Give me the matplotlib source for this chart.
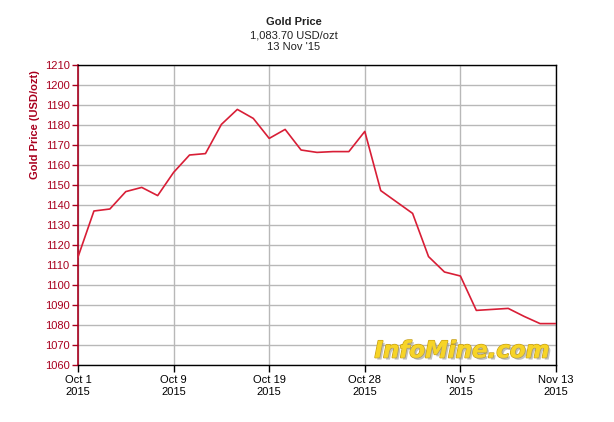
import matplotlib
matplotlib.use("Agg")
import matplotlib.pyplot as plt
import matplotlib.patheffects as pe

plt.rcParams['font.family'] = ['Liberation Sans', 'DejaVu Sans']

# gold price, one value per trading day, Oct 1 - Nov 13 2015
prices = [1114, 1137, 1138, 1146.7, 1148.8, 1144.7, 1156.3, 1165, 1165.7, 1180.3,
          1187.8, 1183.3, 1173.3, 1177.8, 1167.5, 1166.3, 1166.7, 1166.7, 1176.8, 1147.2,
          1141.5, 1135.8, 1114.2, 1106.5, 1104.5, 1087.3, 1087.8, 1088.3, 1084.3, 1080.7,
          1080.7]
tick_pos = [0, 6, 12, 18, 24, 30]
tick_labels = ["Oct 1\n2015", "Oct 9\n2015", "Oct 19\n2015", "Oct 28\n2015",
               "Nov 5\n2015", "Nov 13\n2015"]
y_ticks = list(range(1060, 1211, 10))

dark_red = "#a8001e"

fig = plt.figure(figsize=(6.14, 4.22), dpi=100)
ax = fig.add_axes([78 / 614, 57 / 422, 478 / 614, 300 / 422])

ax.plot(range(len(prices)), prices, color="#d81e36", lw=1.2, zorder=3)

ax.set_xlim(0, len(prices) - 1)
ax.set_ylim(1060, 1210)
ax.set_xticks(tick_pos)
ax.set_xticklabels(tick_labels, fontsize=8, color="black", linespacing=1.3)
ax.set_yticks(y_ticks)
ax.set_yticklabels([str(v) for v in y_ticks], fontsize=8, color=dark_red)
ax.grid(True, color="#b8b8b8", lw=1)
ax.set_axisbelow(True)

ax.tick_params(axis="y", direction="out", length=4, width=1, color=dark_red, pad=2)
ax.tick_params(axis="x", direction="out", length=5, width=1, color="black", pad=2)
for s in ["top", "right", "bottom"]:
    ax.spines[s].set_color("black")
    ax.spines[s].set_linewidth(1)
ax.spines["left"].set_color(dark_red)
ax.spines["left"].set_linewidth(1.2)

fig.text(294 / 614, 1 - 22 / 422, "Gold Price", ha="center", va="center",
         fontsize=8, fontweight="bold", color="#222222")
fig.text(294 / 614, 1 - 35 / 422, "1,083.70 USD/ozt", ha="center", va="center",
         fontsize=8, color="#222222")
fig.text(294 / 614, 1 - 47 / 422, "13 Nov '15", ha="center", va="center",
         fontsize=8, color="#222222")
fig.text(35 / 614, 1 - 125 / 422, "Gold Price (USD/ozt)", ha="center", va="center",
         rotation=90, fontsize=8, fontweight="bold", color=dark_red)

# watermark
fig.text(462 / 614, 1 - 351 / 422, "InfoMine.com", ha="center", va="center",
         fontsize=16.5, fontweight="bold", fontstyle="italic", color="#f7d427",
         family="DejaVu Sans",
         path_effects=[pe.withStroke(linewidth=1.2, foreground="#c9a010"),
                       pe.SimplePatchShadow(offset=(1.5, -1.5), shadow_rgbFace="#999999", alpha=0.6),
                       pe.Normal()])

fig.savefig("out.png", dpi=100)
